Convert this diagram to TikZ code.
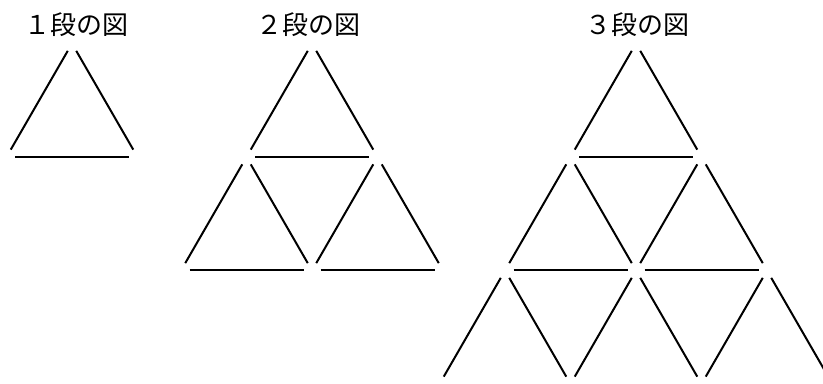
\documentclass[tikz,border=0pt]{standalone}
\usepackage{fontspec}
\newfontfamily\jpfont{Noto Sans CJK JP}
\begin{document}
\begin{tikzpicture}[x=0.5pt,y=-0.5pt,
  stick/.style={line width=1pt,line cap=butt,shorten <=4.25pt,shorten >=4.25pt},
  every node/.style={font=\jpfont\fontsize{13}{13}\selectfont,inner sep=0pt}]
  \useasboundingbox (0,0) rectangle (823,384);
  \clip (0,0) rectangle (823,384);
  \node (lab1) at (77,25) {１段の図};
  \node (lab2) at (308,25) {２段の図};
  \node (lab3) at (637,25) {３段の図};
  % upward triangles, row by row
  \foreach \cx/\n in {72/1,312/2,636/3} {
    \foreach \r in {1,...,\n} {
      \foreach \k in {1,...,\r} {
        \pgfmathsetmacro{\ax}{\cx+(\k-1-(\r-1)/2)*131}
        \pgfmathsetmacro{\ay}{43.5+(\r-1)*113.5}
        \coordinate (top) at (\ax,\ay);
        \coordinate (bl) at (\ax-65.5,\ay+113.5);
        \coordinate (br) at (\ax+65.5,\ay+113.5);
        \draw[stick] (top) -- (bl);
        \draw[stick] (top) -- (br);
        \ifnum\n\r=33 \else
          \draw[stick] (bl) -- (br);
        \fi
      }
    }
  }
\end{tikzpicture}
\end{document}
